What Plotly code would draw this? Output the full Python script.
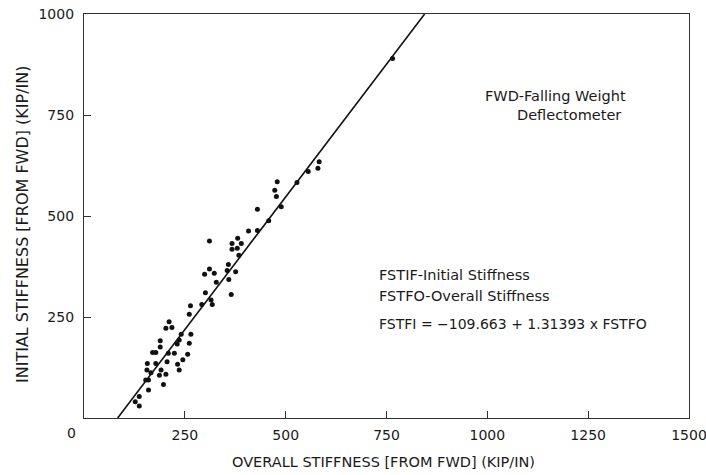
import numpy as np
import plotly.graph_objects as go

# Observed data (overall stiffness vs initial stiffness, KIP/IN)
fstfo = [583, 580, 556, 528, 479, 473, 477, 489, 430, 458, 430, 408, 311, 381,
         367, 390, 367, 380, 384, 358, 299, 311, 323, 355, 376, 359, 328, 365,
         301, 315, 318, 292, 264, 261, 211, 203, 218, 241, 265, 236, 261, 231,
         189, 189, 224, 257, 209, 170, 178, 245, 232, 206, 157, 178, 156, 191,
         236, 187, 203, 166, 153, 160, 197, 160, 137, 127, 137, 765]
fstfi = [634, 618, 610, 583, 585, 564, 548, 523, 517, 488, 464, 463, 438, 445,
         432, 432, 418, 420, 403, 380, 356, 369, 358, 365, 362, 343, 336, 306,
         310, 292, 281, 281, 278, 257, 238, 222, 224, 207, 207, 193, 185, 183,
         191, 176, 160, 158, 160, 162, 162, 144, 133, 139, 135, 135, 119, 119,
         119, 106, 108, 112, 94, 94, 83, 69, 53, 40, 30, 890]

# Regression: FSTFI = -109.663 + 1.31393 x FSTFO
intercept = -109.663
slope = 1.31393
line_y = [0, 1000]

x_ticks = [250, 500, 750, 1000, 1250, 1500]
y_ticks = [250, 500, 750, 1000]

line_x = [(v - intercept) / slope for v in line_y]

FONT = "DejaVu Sans"
TXT = "#1a1a1a"

fig = go.Figure()
fig.add_trace(go.Scatter(x=line_x, y=line_y, mode="lines",
                         line=dict(color="#111111", width=1.6),
                         hoverinfo="skip", showlegend=False))
fig.add_trace(go.Scatter(x=fstfo, y=fstfi, mode="markers",
                         marker=dict(color="#111111", size=5),
                         showlegend=False))

fig.update_xaxes(range=[0, 1500], tickvals=x_ticks,
                 ticktext=[str(v) for v in x_ticks],
                 ticks="inside", ticklen=7, tickcolor="#333", tickwidth=1,
                 showline=True, linecolor="#333", linewidth=1.3, mirror=True,
                 showgrid=False, zeroline=False, ticklabeloverflow="allow",
                 automargin=False,
                 tickfont=dict(family=FONT, size=14, color=TXT),
                 ticklabelstandoff=4)
fig.update_yaxes(range=[0, 1000], tickvals=y_ticks,
                 ticktext=[str(v) for v in y_ticks],
                 ticks="inside", ticklen=7, tickcolor="#333", tickwidth=1,
                 showline=True, linecolor="#333", linewidth=1.3, mirror=True,
                 showgrid=False, zeroline=False, ticklabeloverflow="allow",
                 automargin=False,
                 tickfont=dict(family=FONT, size=14, color=TXT),
                 ticklabelstandoff=6)

W, H = 706, 475
L, R, T, B = 84, 17, 14, 57
pw, ph = W - L - R, H - T - B

def px(x):
    return (x - L) / pw

def py(y):
    return (H - B - y) / ph

annos = [
    dict(text="0", x=px(71), y=py(433), xanchor="center", yanchor="middle", size=14),
    dict(text="OVERALL STIFFNESS [FROM FWD] (KIP/IN)", x=px(383), y=py(462),
         xanchor="center", yanchor="middle", size=14.5),
    dict(text="INITIAL STIFFNESS [FROM FWD] (KIP/IN)", x=px(22), y=py(224),
         xanchor="center", yanchor="middle", size=16, angle=-90),
    dict(text="FWD-Falling Weight", x=px(628), y=py(96), xanchor="right",
         yanchor="middle", size=14.5),
    dict(text="Deflectometer", x=px(623), y=py(115), xanchor="right",
         yanchor="middle", size=14.5),
    dict(text="FSTIF-Initial Stiffness", x=px(377), y=py(275), xanchor="left",
         yanchor="middle", size=14.5),
    dict(text="FSTFO-Overall Stiffness", x=px(377), y=py(296), xanchor="left",
         yanchor="middle", size=14.5),
    dict(text="FSTFI = \u2212109.663 + 1.31393 x FSTFO", x=px(377), y=py(324),
         xanchor="left", yanchor="middle", size=14),
]
for a in annos:
    fig.add_annotation(text=a["text"], x=a["x"], y=a["y"], xref="paper", yref="paper",
                       xanchor=a["xanchor"], yanchor=a["yanchor"], showarrow=False,
                       textangle=a.get("angle", 0),
                       font=dict(family=FONT, size=a["size"], color=TXT))

fig.update_layout(width=W, height=H, margin=dict(l=L, r=R, t=T, b=B),
                  paper_bgcolor="white", plot_bgcolor="white")

fig.write_html("out.html")
